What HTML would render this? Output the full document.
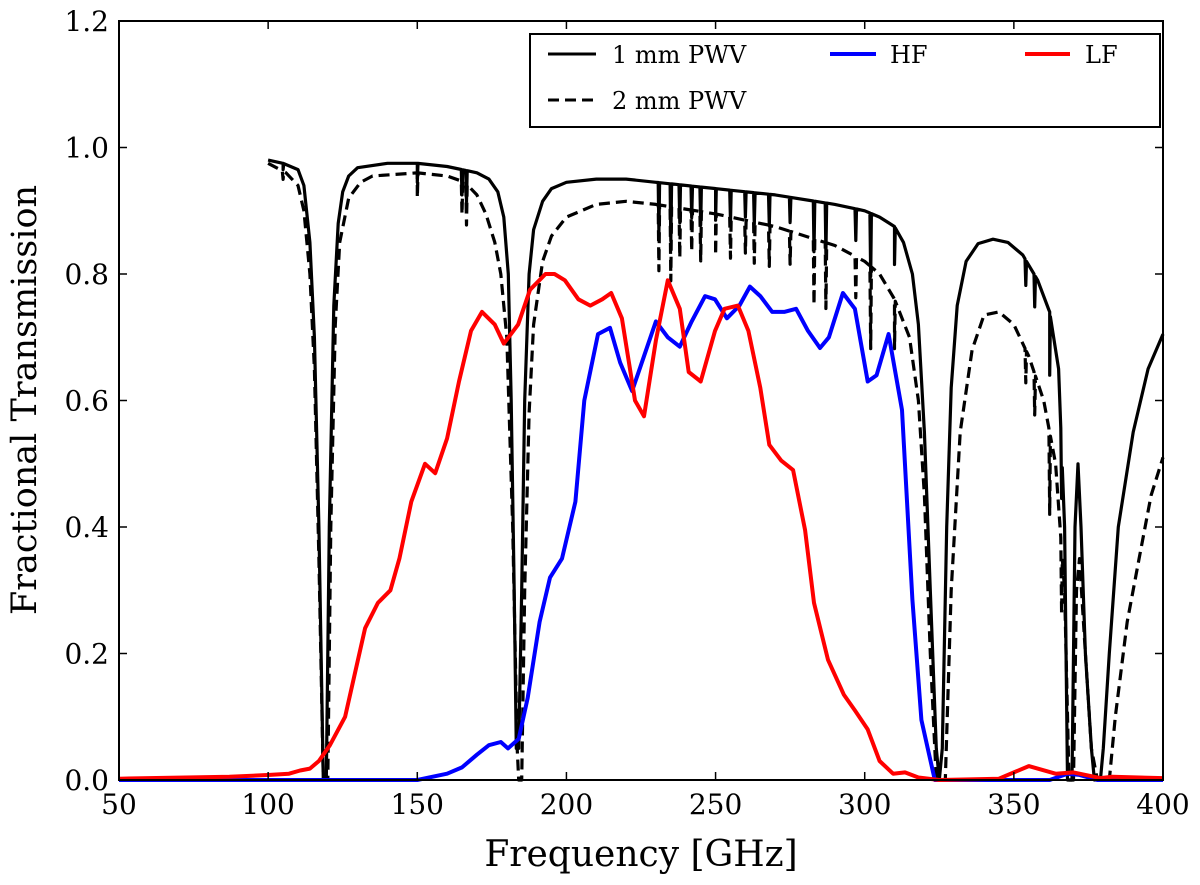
<!DOCTYPE html>
<html><head><meta charset="utf-8"><style>
html,body{margin:0;padding:0;background:#fff;}
svg text{font-family:"DejaVu Serif","Liberation Serif",serif;fill:#000;}
</style></head><body>
<svg id="chart" width="1200" height="880" viewBox="0 0 1200 880" xmlns="http://www.w3.org/2000/svg">
<g id="plot"></g>
<g id="axes"></g>
<text x="641" y="866" font-size="36" text-anchor="middle">Frequency [GHz]</text>
<text transform="translate(36,400) rotate(-90)" font-size="35" text-anchor="middle">Fractional Transmission</text>
<g>
<rect x="530" y="34" width="630" height="93" fill="#fff" stroke="#000" stroke-width="2"/>
<line x1="548" y1="54" x2="596" y2="54" stroke="#000" stroke-width="3"/>
<text x="612" y="63" font-size="24">1 mm PWV</text>
<line x1="548" y1="100" x2="596" y2="100" stroke="#000" stroke-width="3" stroke-dasharray="11,6"/>
<text x="612" y="109" font-size="24">2 mm PWV</text>
<line x1="830" y1="54" x2="876" y2="54" stroke="#0000ff" stroke-width="4"/>
<text x="890" y="63" font-size="24">HF</text>
<line x1="1025" y1="54" x2="1070" y2="54" stroke="#ff0000" stroke-width="4"/>
<text x="1085" y="63" font-size="24">LF</text>
</g>
</svg>
<script>
const xTicks=[50,100,150,200,250,300,350,400];
const yTicks=[0.0,0.2,0.4,0.6,0.8,1.0,1.2];
const yTickLabels=["0.0","0.2","0.4","0.6","0.8","1.0","1.2"];
const lfFreq=[50,87,100.6,107,110.7,114,117,120.7,125.8,132.5,136.8,141,144,148,152.6,156,160,164,168,171.7,176,179,183.8,187.8,193,196,199.5,204,208,212,215,218.6,223,226,230,234,238,241,245,249.8,253,257.5,261,265,268,272,276,280,283,287.7,293,296.7,301,305,309.5,313.5,318,325,345,355,364,370,379,383,400];
const lfVal=[0.002,0.005,0.008,0.01,0.015,0.018,0.03,0.055,0.1,0.24,0.28,0.30,0.35,0.44,0.5,0.485,0.54,0.63,0.71,0.74,0.72,0.69,0.72,0.775,0.8,0.8,0.79,0.76,0.75,0.76,0.77,0.73,0.6,0.575,0.695,0.79,0.745,0.645,0.63,0.71,0.745,0.75,0.71,0.62,0.53,0.505,0.49,0.395,0.28,0.19,0.135,0.11,0.08,0.03,0.01,0.012,0.004,0,0.002,0.022,0.01,0.012,0.003,0.005,0.003];
const hfFreq=[50,150,155,160,165,170,174,178,180.4,184,187,191,194.5,198.5,203,206,210.6,214.6,218,222,226,230,234,238,242,246.5,249.8,253.8,258,261.5,265,269,273,277,281,285,288,292.7,296.7,301,304,308,312.5,316,319,323.5,362,368,372,378,400];
const hfVal=[0,0,0.005,0.01,0.02,0.04,0.055,0.06,0.05,0.065,0.13,0.25,0.32,0.35,0.44,0.6,0.705,0.715,0.66,0.615,0.67,0.725,0.70,0.685,0.725,0.765,0.76,0.73,0.75,0.78,0.765,0.74,0.74,0.745,0.71,0.683,0.70,0.77,0.745,0.63,0.64,0.705,0.585,0.285,0.095,0,0,0.01,0.008,0,0];
const pwv1Freq=[100,105,110,112,114,115.5,117,118.5,119.5,120.5,122,123.5,125,127,130,140,150,160,170,174,177,179,180.5,181.5,182.5,183.2,184,185,186,187.5,189,192,195,200,210,220,230,250,270,290,300,305,310,313,316,318,320,322,324,325,326,327.5,329,331,334,338,343,348,353,358,362,365,367,368,369.5,370.5,371.5,372.5,374,376,377,379,380,382,385,390,395,400];
const pwv1Val=[0.98,0.975,0.965,0.94,0.85,0.7,0.4,0,0,0.4,0.75,0.88,0.93,0.955,0.968,0.975,0.975,0.97,0.96,0.95,0.93,0.89,0.8,0.6,0.3,0.05,0.05,0.3,0.6,0.8,0.87,0.915,0.935,0.945,0.95,0.95,0.945,0.935,0.925,0.91,0.9,0.89,0.875,0.85,0.8,0.72,0.55,0.3,0.05,0,0.05,0.4,0.62,0.75,0.82,0.848,0.855,0.85,0.83,0.79,0.74,0.65,0.4,0,0,0.4,0.5,0.4,0.2,0.05,0,0,0.05,0.2,0.4,0.55,0.65,0.705];
const pwv2Freq=[100,106,110,112,114,115.5,117,118.5,120,121,122.5,124,127,131,135,150,160,166,170,173,176,178,180,182,183.5,184,185,186,187.5,189,192,195,200,210,220,230,250,270,290,300,305,310,315,318,320,322,324,327,329,332,336,340,345,350,355,360,364,367,368.5,370,371,372,374,376,378,382,384,388,392,396,400];
const pwv2Val=[0.975,0.96,0.94,0.9,0.8,0.65,0.35,0,0,0.4,0.72,0.85,0.92,0.945,0.955,0.96,0.955,0.945,0.925,0.895,0.85,0.8,0.7,0.4,0.05,0,0,0.3,0.58,0.72,0.82,0.86,0.89,0.91,0.915,0.91,0.895,0.875,0.845,0.82,0.8,0.76,0.7,0.6,0.45,0.2,0,0,0.3,0.55,0.68,0.735,0.74,0.72,0.67,0.6,0.5,0.3,0,0,0.3,0.35,0.2,0.05,0,0,0.1,0.25,0.35,0.45,0.51];
const spikeFreq=[105,150,165,166.5,231,235,238,242,245,250,255,260,263,268,275,283,287,297,302,310,354,357,362,366];
const spikeDepth=[0.01,0.03,0.04,0.05,0.08,0.09,0.06,0.05,0.06,0.05,0.05,0.04,0.05,0.05,0.04,0.08,0.08,0.05,0.1,0.06,0.04,0.05,0.1,0.08];

const X0=119,X1=1163,Y0=780,Y1=21;
const xs=f=>X0+(f-50)/350*(X1-X0);
const ys=v=>Y0-v/1.2*(Y0-Y1);
const NS="http://www.w3.org/2000/svg";
const plot=document.getElementById('plot'),axes=document.getElementById('axes');
function interp(F,V,f){for(let i=1;i<F.length;i++){if(f<=F[i]){const t=(f-F[i-1])/(F[i]-F[i-1]);return V[i-1]+t*(V[i]-V[i-1]);}}return V[V.length-1];}
function withSpikes(F,V,scale){
  let pts=F.map((f,i)=>[f,V[i]]);
  spikeFreq.forEach((s,i)=>{if(s<F[0]||s>F[F.length-1])return;const b=interp(F,V,s);if(b<0.3)return;
    pts.push([s-0.25,interp(F,V,s-0.25)],[s,b-spikeDepth[i]*scale],[s+0.25,interp(F,V,s+0.25)]);});
  pts.sort((a,b)=>a[0]-b[0]);return pts;}
function drawLine(pts,color,w,dash,name){
  const p=document.createElementNS(NS,'polyline');
  p.setAttribute('points',pts.map(q=>xs(q[0]).toFixed(1)+','+ys(q[1]).toFixed(1)).join(' '));
  p.setAttribute('fill','none');p.setAttribute('stroke',color);p.setAttribute('stroke-width',w);
  p.setAttribute('stroke-linejoin','round');
  if(dash)p.setAttribute('stroke-dasharray',dash);
  
  
  plot.appendChild(p);}
drawLine(withSpikes(pwv2Freq,pwv2Val,1.3),'#000',3.2,'11,6','pwv-2mm-line');
drawLine(withSpikes(pwv1Freq,pwv1Val,1),'#000',3.2,null,'pwv-1mm-line');
drawLine(hfFreq.map((f,i)=>[f,hfVal[i]]),'#0000ff',4,null,'hf-line');
drawLine(lfFreq.map((f,i)=>[f,lfVal[i]]),'#ff0000',4,null,'lf-line');
function mk(tag,attrs,name){const e=document.createElementNS(NS,tag);for(const k in attrs)e.setAttribute(k,attrs[k]);
  
  
  axes.appendChild(e);return e;}
mk('rect',{x:X0,y:Y1,width:X1-X0,height:Y0-Y1,fill:'none',stroke:'#000','stroke-width':2},'plot-frame');
xTicks.forEach(t=>{const x=xs(t);
  mk('line',{x1:x,y1:Y0,x2:x,y2:Y0-8,stroke:'#000','stroke-width':1.5},'x-tick');
  mk('line',{x1:x,y1:Y1,x2:x,y2:Y1+8,stroke:'#000','stroke-width':1.5},'x-tick-top');
  const tx=mk('text',{x:x,y:Y0+34,'font-size':28,'text-anchor':'middle'},'x-tick-label');tx.textContent=t;});
yTicks.forEach((t,i)=>{const y=ys(t);
  mk('line',{x1:X0,y1:y,x2:X0+8,y2:y,stroke:'#000','stroke-width':1.5},'y-tick');
  mk('line',{x1:X1,y1:y,x2:X1-8,y2:y,stroke:'#000','stroke-width':1.5},'y-tick-right');
  const tx=mk('text',{x:X0-10,y:y+10,'font-size':28,'text-anchor':'end'},'y-tick-label');tx.textContent=yTickLabels[i];});
</script>
</body></html>
